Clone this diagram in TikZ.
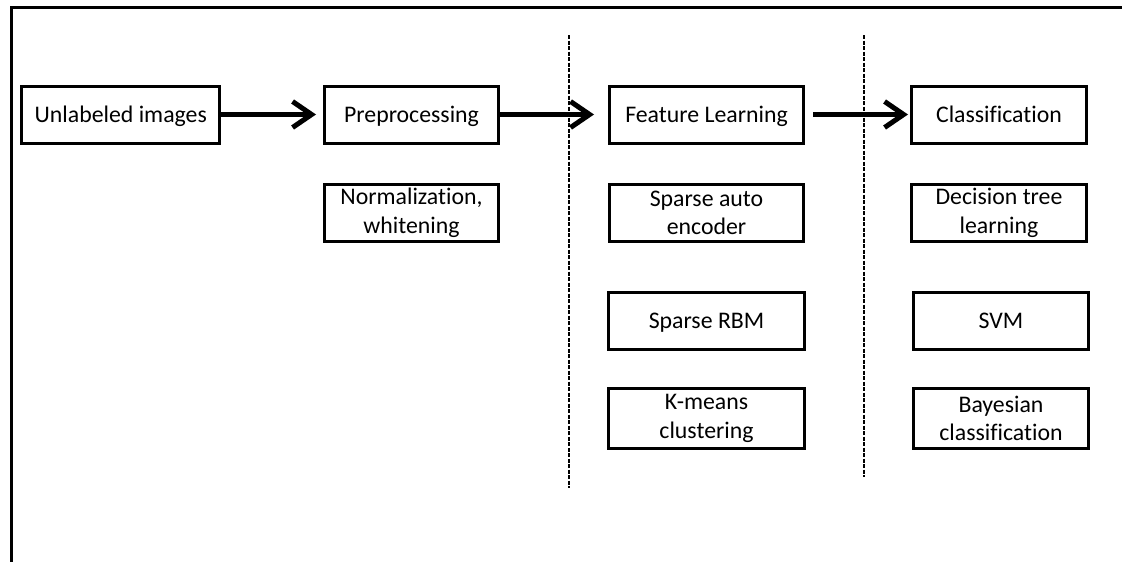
\documentclass[tikz,border=0pt]{standalone}
\usepackage{fontspec}
\setmainfont{Carlito}[Ligatures=NoCommon]
\usetikzlibrary{arrows.meta}
\begin{document}
\begin{tikzpicture}[x=1pt,y=-1pt,
  box/.style={draw, line width=3pt, minimum width=#1, minimum height=57pt,
    inner sep=0pt, align=center, font=\fontsize{23.8}{28.5}\selectfont},
  one/.style={text height=17pt, text depth=2pt},
  arr/.style={line width=5pt, -{Straight Barb[length=19pt,width=26pt,line width=5pt]}},
  sep/.style={line width=1.5pt, dash pattern=on 4pt off 1.5pt},
  frame/.style={line width=3pt}]
\useasboundingbox (0,0) rectangle (1122,562);
\clip (0,0) rectangle (1122,562);
\draw[frame] (11,575) -- (11,7.5) -- (1135,7.5);

\draw[sep] (569,35) -- (569,488);
\draw[sep] (864,35) -- (864,477);

\node[box=198pt, one] (u) at (120.75,114.5) {Unlabeled images};
\node[box=174pt, one] (p) at (411.5,114.5) {Preprocessing};
\node[box=174pt] (n) at (411.5,213) {Normalization,\\whitening};
\node[box=194pt, one] (f) at (706.5,114.5) {Feature Learning};
\node[box=194pt] (sa) at (706.5,213) {Sparse auto\\encoder};
\node[box=196pt, one] (rbm) at (706.5,320.5) {Sparse RBM};
\node[box=196pt, minimum height=60pt] (km) at (706.5,418.5) {K-means\\clustering};
\node[box=175pt, one] (c) at (999,114.5) {Classification};
\node[box=175pt] (dt) at (999,213) {Decision tree\\learning};
\node[box=175pt, one] (svm) at (1001,320.5) {SVM};
\node[box=175pt, minimum height=60pt] (bay) at (1001,418.5) {Bayesian\\classification};

\draw[arr, shorten >=7pt] (u) -- (p);
\draw[arr, shorten >=14pt] (p) -- (f);
\draw[arr, shorten <=8pt, shorten >=2pt] (f) -- (c);
\end{tikzpicture}
\end{document}
